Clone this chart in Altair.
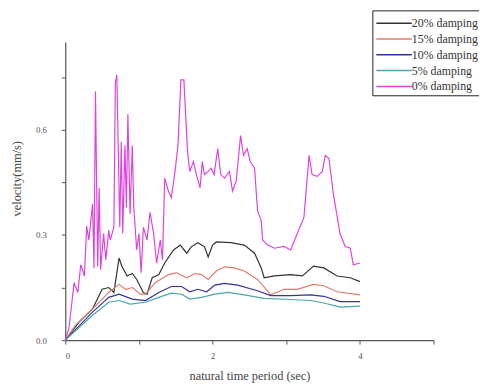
import altair as alt
import pandas as pd

# 20% damping
x20 = [0, 0.19, 0.37, 0.50, 0.59, 0.66, 0.73, 0.77, 0.84, 0.91, 0.97, 1.06, 1.11, 1.18, 1.27, 1.35, 1.47, 1.56, 1.65, 1.71, 1.80, 1.89, 1.94, 2.0, 2.05, 2.25, 2.43, 2.57, 2.66, 2.70, 2.84, 3.06, 3.22, 3.37, 3.51, 3.69, 3.87, 4.0]
y20 = [0, 0.052, 0.089, 0.145, 0.15, 0.136, 0.234, 0.21, 0.183, 0.19, 0.173, 0.136, 0.131, 0.178, 0.187, 0.22, 0.257, 0.271, 0.248, 0.266, 0.278, 0.266, 0.237, 0.271, 0.28, 0.278, 0.271, 0.248, 0.206, 0.178, 0.183, 0.187, 0.183, 0.211, 0.206, 0.183, 0.178, 0.167]
# 15% damping
x15 = [0, 0.14, 0.37, 0.59, 0.73, 0.82, 0.91, 1.02, 1.09, 1.22, 1.40, 1.51, 1.65, 1.76, 1.85, 1.94, 2.05, 2.16, 2.30, 2.43, 2.61, 2.79, 2.97, 3.15, 3.37, 3.51, 3.69, 4.0]
y15 = [0, 0.043, 0.089, 0.136, 0.159, 0.145, 0.15, 0.131, 0.131, 0.164, 0.187, 0.192, 0.178, 0.19, 0.187, 0.173, 0.197, 0.209, 0.206, 0.197, 0.173, 0.129, 0.145, 0.145, 0.159, 0.155, 0.138, 0.129]
# 10% damping
x10 = [0, 0.37, 0.59, 0.73, 0.91, 1.09, 1.27, 1.44, 1.58, 1.69, 1.80, 1.92, 2.03, 2.16, 2.34, 2.61, 2.79, 3.06, 3.33, 3.51, 3.73, 4.0]
y10 = [0, 0.080, 0.122, 0.131, 0.117, 0.113, 0.136, 0.153, 0.153, 0.138, 0.145, 0.138, 0.157, 0.162, 0.157, 0.141, 0.127, 0.127, 0.129, 0.125, 0.110, 0.110]
# 5% damping
x5 = [0, 0.37, 0.59, 0.73, 0.88, 1.09, 1.27, 1.44, 1.58, 1.69, 1.85, 2.03, 2.21, 2.43, 2.70, 3.06, 3.33, 3.51, 3.73, 4.0]
y5 = [0, 0.071, 0.108, 0.113, 0.103, 0.108, 0.122, 0.134, 0.131, 0.117, 0.122, 0.131, 0.136, 0.129, 0.119, 0.116, 0.113, 0.106, 0.094, 0.097]
# 0% damping
x0 = [0, 0.05, 0.12, 0.17, 0.21, 0.26, 0.29, 0.32, 0.37, 0.39, 0.41, 0.44, 0.46, 0.48, 0.52, 0.55, 0.59, 0.61, 0.66, 0.68, 0.70, 0.74, 0.76, 0.78, 0.81, 0.83, 0.85, 0.88, 0.91, 0.93, 0.97, 1.00, 1.03, 1.06, 1.11, 1.15, 1.20, 1.24, 1.29, 1.32, 1.35, 1.40, 1.44, 1.49, 1.53, 1.57, 1.61, 1.66, 1.69, 1.74, 1.78, 1.83, 1.86, 1.89, 1.94, 1.98, 2.02, 2.07, 2.11, 2.16, 2.23, 2.27, 2.32, 2.38, 2.42, 2.47, 2.51, 2.57, 2.61, 2.66, 2.68, 2.75, 2.84, 2.97, 3.06, 3.15, 3.24, 3.31, 3.35, 3.42, 3.49, 3.53, 3.58, 3.64, 3.73, 3.80, 3.87, 3.91, 4.0]
y0 = [0, 0.034, 0.164, 0.136, 0.215, 0.183, 0.325, 0.285, 0.388, 0.205, 0.709, 0.21, 0.434, 0.201, 0.304, 0.229, 0.313, 0.285, 0.322, 0.733, 0.756, 0.322, 0.565, 0.304, 0.555, 0.378, 0.644, 0.36, 0.555, 0.378, 0.257, 0.304, 0.192, 0.322, 0.285, 0.364, 0.304, 0.22, 0.285, 0.229, 0.462, 0.425, 0.406, 0.481, 0.555, 0.742, 0.742, 0.537, 0.481, 0.509, 0.472, 0.434, 0.509, 0.472, 0.481, 0.49, 0.472, 0.546, 0.472, 0.462, 0.481, 0.425, 0.453, 0.583, 0.527, 0.546, 0.509, 0.49, 0.369, 0.341, 0.285, 0.271, 0.262, 0.267, 0.257, 0.304, 0.35, 0.527, 0.472, 0.467, 0.481, 0.527, 0.518, 0.416, 0.304, 0.267, 0.262, 0.215, 0.22]

names = ["20% damping", "15% damping", "10% damping", "5% damping", "0% damping"]
colors = ["#333333", "#e07a6a", "#34349e", "#4aa6a8", "#dd44dd"]

rows = []
for name, xs, ys in zip(names, [x20, x15, x10, x5, x0], [y20, y15, y10, y5, y0]):
    for i, (a, b) in enumerate(zip(xs, ys)):
        rows.append({"series": name, "t": a, "v": b, "i": i})
df = pd.DataFrame(rows)

font = "Liberation Serif"
axis_common = dict(
    grid=False, domainColor="#555555", tickColor="#555555", labelColor="#555555",
    titleColor="#444444", labelFont=font, titleFont=font, labelFontSize=9,
    titleFontSize=12.5, titleFontWeight="normal", tickSize=4, domainWidth=1.2,
)

chart = alt.Chart(df).mark_line(strokeWidth=1.2).encode(
    x=alt.X("t:Q", scale=alt.Scale(domain=[0, 5], nice=False),
            axis=alt.Axis(values=[0, 1, 2, 3, 4, 5],
                          labelExpr="datum.value==0||datum.value==2||datum.value==4 ? format(datum.value,'d') : ''",
                          title="natural time period (sec)", labelPadding=8, titlePadding=9, **axis_common)),
    y=alt.Y("v:Q", scale=alt.Scale(domain=[0, 0.85], nice=False),
            axis=alt.Axis(values=[0, 0.15, 0.3, 0.45, 0.6, 0.75],
                          labelExpr="datum.value==0||datum.value==0.3||datum.value==0.6 ? format(datum.value,'.1f') : ''",
                          title="velocity(mm/s)", labelPadding=15, titlePadding=12, titleY=138, **axis_common)),
    color=alt.Color("series:N", scale=alt.Scale(domain=names, range=colors),
                    legend=alt.Legend(title=None, orient="none", legendX=311, legendY=-32,
                                      strokeColor="#222222", padding=3, fillColor="white",
                                      labelFont=font, labelFontSize=12, labelColor="#333333",
                                      symbolType="M-1,0H3", symbolSize=324, symbolStrokeWidth=1.5,
                                      rowPadding=0, labelOffset=17)),
    order="i:Q",
    detail="series:N",
).properties(
    width=373, height=302,
    autosize=alt.AutoSizeParams(type="none"),
    padding={"left": 58, "top": 32, "right": 46, "bottom": 42},
).configure_view(stroke=None)

chart.save("out.html", embed_options={"renderer": "svg", "actions": False})
